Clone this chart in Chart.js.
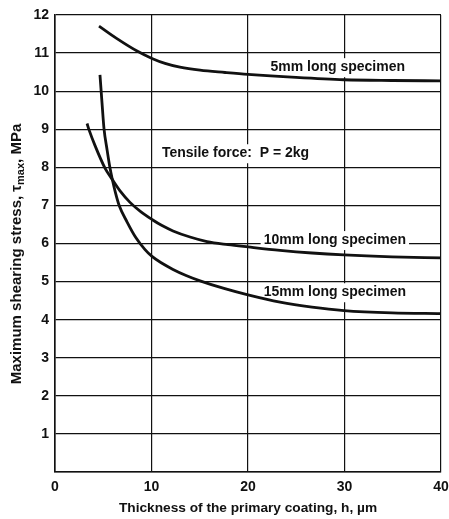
<!DOCTYPE html>
<html><head><meta charset="utf-8">
<script src="https://cdn.jsdelivr.net/npm/chart.js@4/dist/chart.umd.min.js"></script>
<style>html,body{margin:0;padding:0;background:#fff}</style>
</head><body>
<canvas id="c" width="449" height="519"></canvas>
<script>
// ---- data ----
const xTickValues = [0, 10, 20, 30, 40];
const yTickValues = [1, 2, 3, 4, 5, 6, 7, 8, 9, 10, 11, 12];

const thick5mm  = [4.56, 6.42, 8.60, 10.05, 11.40, 12.95, 15.03, 17.62, 20.0, 24.97, 29.95, 34.92, 40];
const stress5mm = [11.71, 11.38, 11.04, 10.86, 10.73, 10.63, 10.55, 10.49, 10.44, 10.36, 10.30, 10.28, 10.27];

const thick10mm  = [3.32, 3.52, 4.15, 5.18, 5.91, 6.74, 7.77, 8.91, 10.05, 11.09, 12.23, 13.99, 15.75, 17.93, 20.0, 23.32, 26.63, 29.95, 34.92, 40];
const stress10mm = [9.15, 8.99, 8.57, 7.98, 7.69, 7.38, 7.08, 6.83, 6.63, 6.47, 6.33, 6.17, 6.05, 5.97, 5.91, 5.82, 5.75, 5.70, 5.65, 5.62];

const thick15mm  = [4.66, 4.87, 5.08, 5.39, 5.70, 5.91, 6.27, 6.66, 7.46, 8.39, 9.33, 10.05, 11.09, 12.23, 13.58, 15.03, 17.51, 20.0, 23.32, 26.63, 29.95, 34.92, 40];
const stress15mm = [10.43, 9.70, 9.01, 8.47, 7.98, 7.72, 7.33, 6.99, 6.57, 6.15, 5.84, 5.66, 5.48, 5.32, 5.16, 5.02, 4.82, 4.65, 4.46, 4.33, 4.24, 4.18, 4.16];

const seriesLabels = ['5mm long specimen', '10mm long specimen', '15mm long specimen'];
const noteText = 'Tensile force:  P = 2kg';
const xTitle = 'Thickness of the primary coating, h, \u00b5m';
const yTitleParts = ['Maximum shearing stress, \u03c4', 'max', ', MPa'];

// ---- chart ----
const FONT = '"Liberation Sans", Arial, Helvetica, sans-serif';
const INK = '#111';
const toPts = (xs, ys) => xs.map((x, i) => ({x: x, y: ys[i]}));

const curveStyle = {
  borderColor: INK, borderWidth: 2.8, pointRadius: 0, fill: false,
  cubicInterpolationMode: 'monotone', showLine: true
};

const labelPlugin = {
  id: 'labels',
  beforeDatasetsDraw(chart) {
    const ctx = chart.ctx, xs = chart.scales.x, ys = chart.scales.y;
    const notes = [
      {t: seriesLabels[0], x: 29.3, y: 10.63, align: 'center'},
      {t: noteText,        x: 11.08, y: 8.37, align: 'left'},
      {t: seriesLabels[1], x: 29.0, y: 6.09, align: 'center'},
      {t: seriesLabels[2], x: 29.0, y: 4.72, align: 'center'}
    ];
    ctx.save();
    ctx.font = 'bold 14px ' + FONT;
    ctx.textBaseline = 'middle';
    for (const n of notes) {
      const px = xs.getPixelForValue(n.x), py = ys.getPixelForValue(n.y);
      const w = ctx.measureText(n.t).width;
      const left = n.align === 'center' ? px - w / 2 : px;
      ctx.fillStyle = '#fff';
      ctx.fillRect(left - 3, py - 9, w + 6, 19);
      ctx.fillStyle = INK;
      ctx.textAlign = 'left';
      ctx.fillText(n.t, left, py);
    }
    ctx.restore();
  },
  afterDraw(chart) {
    const ctx = chart.ctx;
    ctx.save();
    ctx.translate(17, 254);
    ctx.rotate(-Math.PI / 2);
    ctx.fillStyle = INK;
    ctx.textBaseline = 'middle';
    const big = 'bold 15px ' + FONT, small = 'bold 11px ' + FONT;
    ctx.font = big;
    const w0 = ctx.measureText(yTitleParts[0]).width;
    const w2 = ctx.measureText(yTitleParts[2]).width;
    ctx.font = small;
    const w1 = ctx.measureText(yTitleParts[1]).width;
    let x = -(w0 + w1 + w2) / 2;
    ctx.font = big; ctx.fillText(yTitleParts[0], x, 0); x += w0;
    ctx.font = small; ctx.fillText(yTitleParts[1], x, 4); x += w1;
    ctx.font = big; ctx.fillText(yTitleParts[2], x, 0);
    ctx.restore();
  }
};

new Chart(document.getElementById('c'), {
  type: 'scatter',
  data: {
    datasets: [
      Object.assign({label: seriesLabels[0], data: toPts(thick5mm, stress5mm)}, curveStyle),
      Object.assign({label: seriesLabels[1], data: toPts(thick10mm, stress10mm)}, curveStyle),
      Object.assign({label: seriesLabels[2], data: toPts(thick15mm, stress15mm)}, curveStyle)
    ]
  },
  options: {
    responsive: false,
    animation: false,
    devicePixelRatio: 1,
    layout: {padding: {top: 15, right: 8, left: 0, bottom: 0}},
    plugins: {legend: {display: false}, tooltip: {enabled: false}},
    scales: {
      x: {
        type: 'linear', min: 0, max: 40,
        afterBuildTicks: s => { s.ticks = xTickValues.map(v => ({value: v})); },
        afterFit: s => { s.height = 47; s.paddingLeft = 0; s.paddingRight = 0; },
        grid: {color: INK, lineWidth: 1.2, drawTicks: false, tickLength: 0},
        border: {color: INK, width: 1.6},
        ticks: {color: INK, padding: 7, font: {family: FONT, size: 14, weight: 'bold'}, maxRotation: 0, autoSkip: false},
        title: {display: true, text: xTitle, color: INK, padding: {top: 0, bottom: 3},
                font: {family: FONT, size: 13.7, weight: 'bold'}}
      },
      y: {
        type: 'linear', min: 0, max: 12,
        afterBuildTicks: s => { s.ticks = [{value: 0}].concat(yTickValues.map(v => ({value: v}))); },
        afterFit: s => { s.width = 55; s.paddingTop = 0; s.paddingBottom = 0; },
        grid: {color: INK, lineWidth: 1.2, drawTicks: false, tickLength: 0},
        border: {color: INK, width: 1.6},
        ticks: {color: INK, padding: 6, font: {family: FONT, size: 14, weight: 'bold'}, autoSkip: false,
                callback: v => (yTickValues.includes(v) ? String(v) : '')}
      }
    }
  },
  plugins: [labelPlugin]
});
</script>
</body></html>
